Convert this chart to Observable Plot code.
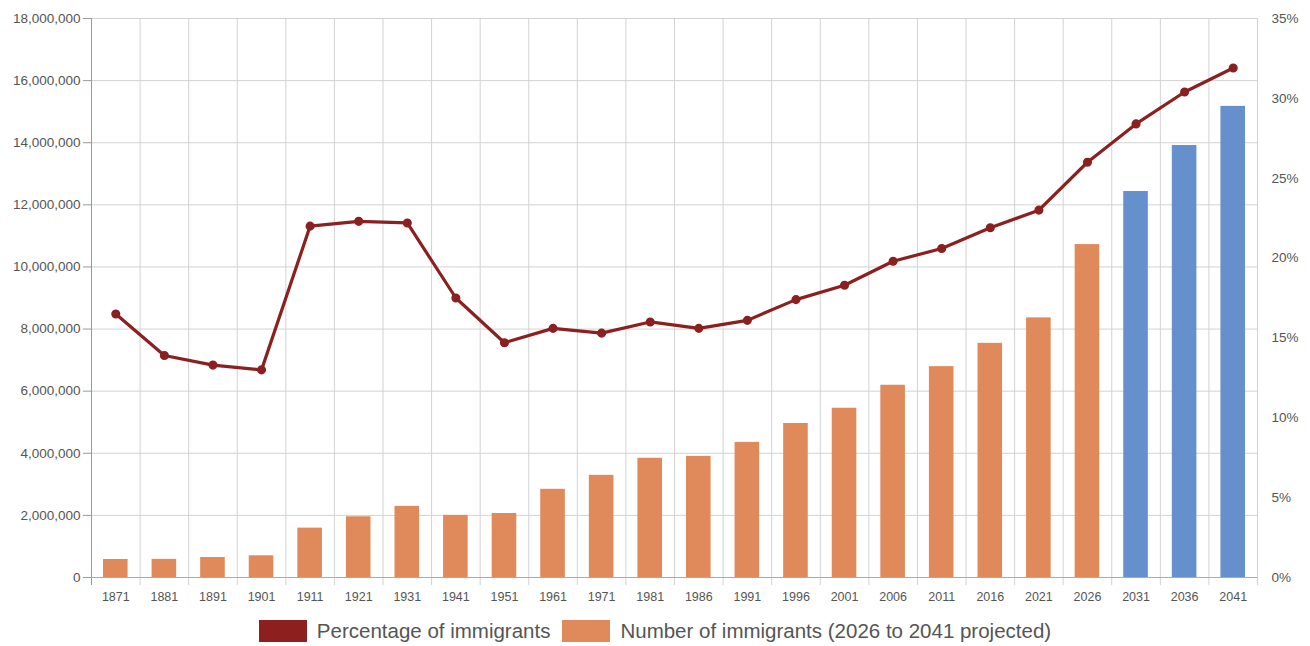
<!DOCTYPE html>
<html>
<head>
<meta charset="utf-8">
<script src="https://cdn.jsdelivr.net/npm/d3@7"></script>
<script src="https://cdn.jsdelivr.net/npm/@observablehq/plot@0.6"></script>
<style>
  html, body { margin: 0; padding: 0; background: #fff; }
  body { width: 1310px; height: 646px; overflow: hidden; font-family: "Liberation Sans", Arial, sans-serif; }
  #legend { position: relative; height: 34px; display: flex; justify-content: center; align-items: center; color: #555; font-size: 20.5px; padding-top: 2px; }
  .item { display: flex; align-items: center; margin: 0 6px; }
  .sw { width: 48px; height: 22px; margin-right: 10px; }
</style>
</head>
<body>
<div id="chart"></div>
<div id="legend"></div>
<script>
const years = ["1871","1881","1891","1901","1911","1921","1931","1941","1951","1961","1971","1981","1986","1991","1996","2001","2006","2011","2016","2021","2026","2031","2036","2041"];
const immigrants = [580000,585000,644000,699000,1590000,1955000,2290000,2000000,2060000,2840000,3290000,3840000,3900000,4350000,4960000,5450000,6190000,6790000,7540000,8360000,10720000,12430000,13910000,15170000];
const percentages = [16.5,13.9,13.3,13.0,22.0,22.3,22.2,17.5,14.7,15.6,15.3,16.0,15.6,16.1,17.4,18.3,19.8,20.6,21.9,23.0,26.0,28.4,30.4,31.9];
const projected = ["2031","2036","2041"];
const leftTicks = [0,2000000,4000000,6000000,8000000,10000000,12000000,14000000,16000000,18000000];
const rightTicks = [0,5,10,15,20,25,30,35];

const W = 1310, H = 612, mL = 91, mR = 53, mT = 18, mB = 35;
const yMax = 18000000, pMax = 35;
const step = (W - mL - mR) / years.length;

const data = years.map((y, i) => ({year: y, n: immigrants[i], p: percentages[i], proj: projected.includes(y)}));
const pctToY = p => p / pMax * yMax;

const chart = Plot.plot({
  width: W, height: H,
  marginLeft: mL, marginRight: mR, marginTop: mT, marginBottom: mB,
  style: {fontFamily: "'Liberation Sans', Arial, sans-serif", color: "#555", background: "#fff"},
  x: {type: "band", domain: years, padding: 0, round: false, label: null},
  y: {domain: [0, yMax], label: null},
  marks: [
    Plot.ruleY(leftTicks, {stroke: "#d2d2d2", strokeWidth: 1}),
    Plot.ruleX(years.slice(1), {x: d => d, dx: -step / 2, stroke: "#d2d2d2", strokeWidth: 1, insetBottom: -8}),
    Plot.ruleX([years[0]], {dx: -step / 2, stroke: "#999", strokeWidth: 1, insetBottom: -8}),
    Plot.ruleX([years[years.length - 1]], {dx: step / 2, stroke: "#d2d2d2", strokeWidth: 1, insetBottom: -8}),
    Plot.barY(data, {x: "year", y: "n", fill: d => d.proj ? "#6690CC" : "#E0895A", insetLeft: 12, insetRight: 12}),
    Plot.ruleY([0], {stroke: "#aaa", strokeWidth: 1}),
    Plot.axisY({ticks: leftTicks, tickFormat: d => d3.format(",")(d), tickSize: 8, tickPadding: 3, fontSize: 13.5, stroke: "#999"}),
    Plot.axisY({anchor: "right", ticks: rightTicks.map(pctToY), tickFormat: d => Math.round(d / yMax * pMax) + "%", tickSize: 0, tickPadding: 14, fontSize: 13.5, label: null}),
    Plot.axisX({tickSize: 0, tickPadding: 15, fontSize: 12.5, label: null}),
    Plot.line(data, {x: "year", y: d => pctToY(d.p), stroke: "#8B2020", strokeWidth: 3.2, curve: "linear"}),
    Plot.dot(data, {x: "year", y: d => pctToY(d.p), r: 3.8, fill: "#8B2020", stroke: "#8B2020"})
  ]
});
document.getElementById("chart").appendChild(chart);

const legendItems = [
  {label: "Percentage of immigrants", color: "#8E1F1F"},
  {label: "Number of immigrants (2026 to 2041 projected)", color: "#E0895A"}
];
const lg = document.getElementById("legend");
legendItems.forEach(it => {
  const d = document.createElement("div");
  d.className = "item";
  d.innerHTML = `<div class="sw" style="background:${it.color}"></div><span>${it.label}</span>`;
  lg.appendChild(d);
});
</script>
</body>
</html>
